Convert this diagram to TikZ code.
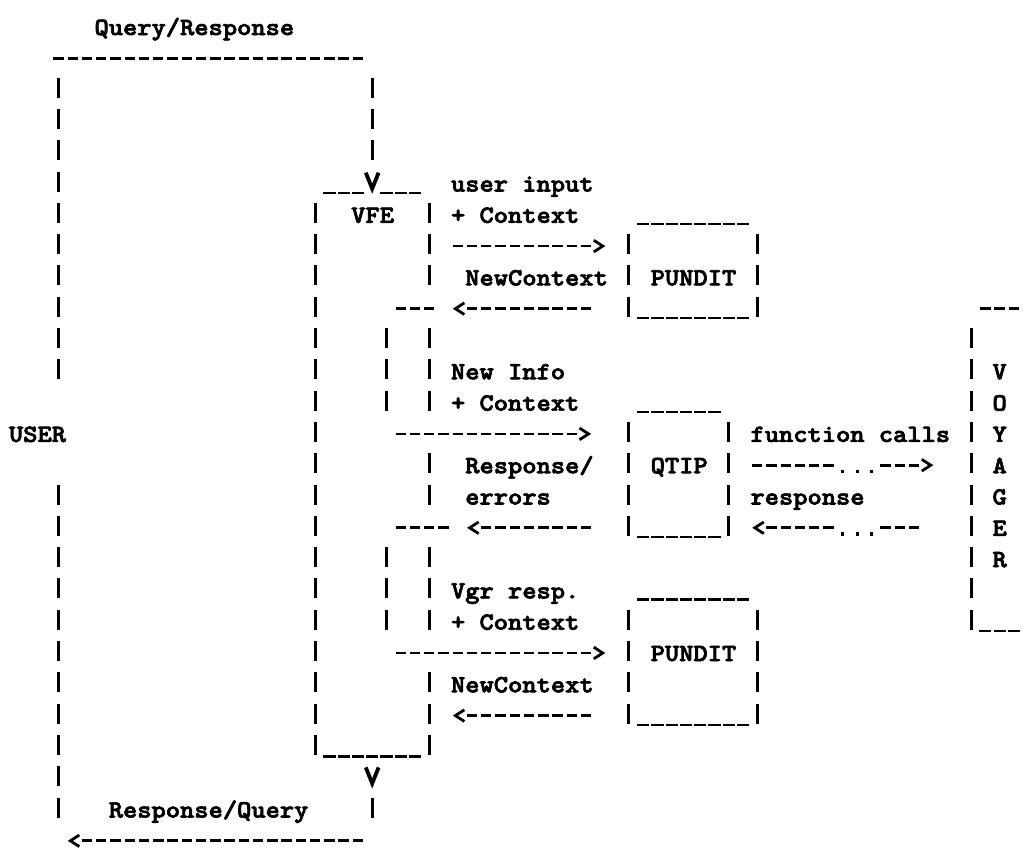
\documentclass[tikz,border=0pt]{standalone}
\usepackage{graphicx}
\usepackage{fontspec}
\usetikzlibrary{arrows.meta,calc}

% typewriter look of the listing, one column = 7.13pt
\newfontfamily\asciifam{lmmonolt10-bold.otf}[FakeBold=2.6]
\newcommand{\asciifont}{\fontsize{12.4pt}{14pt}\selectfont\asciifam}
\newcommand{\tw}[1]{\scalebox{1.0952}[1]{#1}}

\tikzset{
	txt/.style={anchor=base west, inner sep=0pt, font=\asciifont},
	letter/.style={anchor=base, inner sep=0pt, font=\asciifont},
	vbar/.style={line width=1.4pt, dash pattern=on 10pt off 5.65pt},
	hdash/.style={line width=1.35pt, dash pattern=on 5.2pt off 1.93pt},
	under/.style={line width=1.3pt, dash pattern=on 6.1pt off 1.03pt},
	dotrow/.style={line width=1.6pt, dash pattern=on 1.6pt off 5.53pt},
	gt/.style={-{Straight Barb[length=4.5pt,width=5.8pt,line width=1.4pt]}},
	vee/.style={-{Straight Barb[length=8pt,width=6.4pt,line width=1.9pt]}}
}

\begin{document}
\begin{tikzpicture}[x=7.13pt, y=-15.65pt]
	\useasboundingbox (-1.101,-0.8626) rectangle (70.638,26.358);

	% labels (column, row)
	\node[txt] (qr-top) at (5.5,0.256) {\tw{Query/Response}};
	\node[txt] (in-a) at (30.5,5.256) {\tw{user input}};
	\node[txt] (vfe) at (23.5,6.256) {\tw{VFE}};
	\node[txt] (in-b) at (30.5,6.256) {\tw{+ Context}};
	\node[txt] (ctx-a) at (31.5,8.256) {\tw{NewContext}};
	\node[txt] (pundit-a) at (44.5,8.256) {\tw{PUNDIT}};
	\node[txt] (info-a) at (30.5,11.256) {\tw{New Info}};
	\node[txt] (info-b) at (30.5,12.256) {\tw{+ Context}};
	\node[txt] (user) at (-0.5,13.256) {\tw{USER}};
	\node[txt] (calls) at (51.5,13.256) {\tw{function calls}};
	\node[txt] (err-a) at (31.5,14.256) {\tw{Response/}};
	\node[txt] (qtip) at (44.5,14.256) {\tw{QTIP}};
	\node[txt] (err-b) at (31.5,15.256) {\tw{errors}};
	\node[txt] (resp) at (51.5,15.256) {\tw{response}};
	\node[txt] (vgr-a) at (30.5,18.256) {\tw{Vgr resp.}};
	\node[txt] (vgr-b) at (30.5,19.256) {\tw{+ Context}};
	\node[txt] (pundit-b) at (44.5,20.256) {\tw{PUNDIT}};
	\node[txt] (ctx-b) at (30.5,21.256) {\tw{NewContext}};
	\node[txt] (rq-bot) at (6.5,25.256) {\tw{Response/Query}};
	\foreach \ch [count=\r from 11] in {V,O,Y,A,G,E,R}
		\node[letter] (voyager-\r) at (69,\r+0.256) {\tw{\ch}};

	% box walls
	\foreach \c/\a/\b in {21/6/23, 29/6/8, 29/10/12, 26/10/12, 29/14/15, 29/17/19,
		26/17/19, 29/21/23, 43/7/9, 52/7/9, 43/13/16, 50/13/16, 43/19/22, 52/19/22, 67/10/19}
		\draw[vbar] (\c,\a-0.383) -- (\c,\b+0.256);
	\foreach \a/\b/\r in {21.572/24.428/5.3, 25.572/28.428/5.3, 21.572/28.428/23.3,
		43.572/51.428/6.3, 43.572/51.428/9.3, 43.572/49.428/12.3, 43.572/49.428/16.3,
		43.572/51.428/18.3, 43.572/51.428/22.3, 67.572/70.428/19.3}
		\draw[under] (\a,\r) -- (\b,\r);
	\draw[hdash] (26.635,9) -- (29.365,9);
	\draw[hdash] (26.635,16) -- (30.365,16);
	\draw[hdash] (67.635,9) -- (70.365,9);

	% ends of the connectors
	\coordinate (q-up) at (3,11.256);
	\coordinate (q-tl) at (3,1.617);
	\coordinate (q-ha) at (2.635,1);
	\coordinate (q-hb) at (24.365,1);
	\coordinate (q-tr) at (25,1.617);
	\coordinate (q-dn) at (25,4.256);
	\coordinate (vfe-in) at (25,5.33);
	\coordinate (vfe-out) at (25,24.33);
	\coordinate (r-tr) at (25,24.617);
	\coordinate (r-dn) at (25,25.256);
	\coordinate (r-ha) at (4.635,26);
	\coordinate (r-hb) at (24.365,26);
	\coordinate (user-in) at (3.65,26);
	\coordinate (r-up) at (3,14.617);
	\coordinate (r-lo) at (3,25.256);
	\coordinate (vfe-a) at (30.635,7);
	\coordinate (pundit-a-in) at (41.35,7);
	\coordinate (vfe-b) at (30.65,9);
	\coordinate (pundit-a-out) at (40.365,9);
	\coordinate (vfe-c) at (26.635,13);
	\coordinate (qtip-in) at (40.35,13);
	\coordinate (vfe-d) at (31.65,16);
	\coordinate (qtip-out) at (40.365,16);
	\coordinate (vfe-e) at (26.635,20);
	\coordinate (pundit-b-in) at (41.35,20);
	\coordinate (vfe-f) at (30.65,22);
	\coordinate (pundit-b-out) at (40.365,22);
	\coordinate (qtip-call) at (51.635,14);
	\coordinate (voyager-in) at (64.35,14);
	\coordinate (qtip-back) at (51.65,16);
	\coordinate (voyager-out) at (63.365,16);

	% Query/Response loop
	\draw[vbar] (q-up) -- (q-tl);
	\draw[hdash] (q-ha) -- (q-hb);
	\draw[vbar,vee] (q-tr) -- (q-dn) ($(vfe-in)+(0,-0.15)$) -- (vfe-in);

	% Response/Query loop
	\draw[vbar,vee] (r-tr) -- (r-dn) ($(vfe-out)+(0,-0.15)$) -- (vfe-out);
	\draw[hdash,gt] (r-hb) -- (r-ha) ($(user-in)+(0.3,0)$) -- (user-in);
	\draw[vbar] (r-lo) -- (r-up);

	% VFE <-> PUNDIT / QTIP
	\draw[hdash,gt] (vfe-a) -- ($(pundit-a-in)+(-0.985,0)$) ($(pundit-a-in)+(-0.3,0)$) -- (pundit-a-in);
	\draw[hdash,gt] (pundit-a-out) -- ($(vfe-b)+(0.985,0)$) ($(vfe-b)+(0.3,0)$) -- (vfe-b);
	\draw[hdash,gt] (vfe-c) -- ($(qtip-in)+(-0.985,0)$) ($(qtip-in)+(-0.3,0)$) -- (qtip-in);
	\draw[hdash,gt] (qtip-out) -- ($(vfe-d)+(0.985,0)$) ($(vfe-d)+(0.3,0)$) -- (vfe-d);
	\draw[hdash,gt] (vfe-e) -- ($(pundit-b-in)+(-0.985,0)$) ($(pundit-b-in)+(-0.3,0)$) -- (pundit-b-in);
	\draw[hdash,gt] (pundit-b-out) -- ($(vfe-f)+(0.985,0)$) ($(vfe-f)+(0.3,0)$) -- (vfe-f);

	% QTIP <-> VOYAGER
	\draw[hdash,gt] (qtip-call) -- (57.365,14) (60.635,14) -- ($(voyager-in)+(-0.985,0)$)
		($(voyager-in)+(-0.3,0)$) -- (voyager-in);
	\draw[dotrow] (57.895,14.2) -- (60.105,14.2);
	\draw[hdash,gt] (voyager-out) -- (60.635,16) (57.365,16) -- ($(qtip-back)+(0.985,0)$)
		($(qtip-back)+(0.3,0)$) -- (qtip-back);
	\draw[dotrow] (57.895,16.2) -- (60.105,16.2);
\end{tikzpicture}
\end{document}
